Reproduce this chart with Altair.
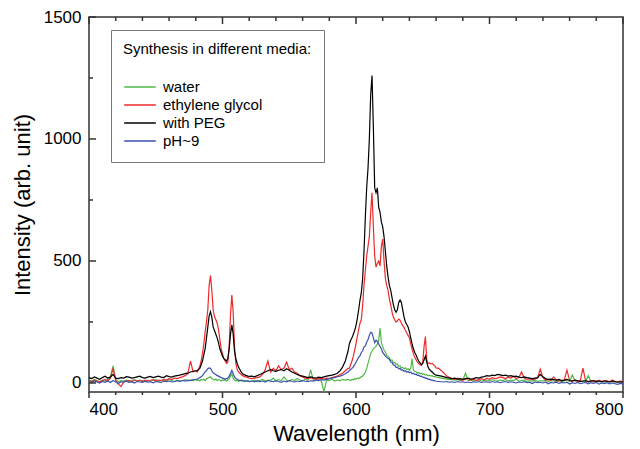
import altair as alt
import pandas as pd

# sampling grid (nm): coarse in flat parts, 1 nm around the emission bands
wavelength = (list(range(400, 481, 2)) + list(range(481, 521)) + list(range(522, 595, 2))
              + list(range(595, 661)) + list(range(662, 801, 2)))

series_names = ["water", "ethylene glycol", "with PEG", "pH~9"]
series_colors = ["#50b848", "#ee2a2a", "#000000", "#3b4fae"]

x_major_ticks = [400, 500, 600, 700, 800]
x_minor_ticks = [420, 440, 460, 480, 520, 540, 560, 580, 620, 640, 660, 680,
                 720, 740, 760, 780]
y_major_ticks = [0, 500, 1000, 1500]
y_minor_ticks = [250, 750, 1250]

water = [
    # 400-480 step 2
    12, 8, 15, 10, 5, 12, 8, 15, 25, 70, 15, 5, 10, 8, 12, 6, 10, 14, 8, 12,
    10, 5, 12, 8, 10, 14, 6, 10, 12, 8, 15, 10, 6, 12, 8, 10, 14, 8, 12, 10, 14,
    # 481-520
    10, 12, 8, 14, 12, 15, 10, 18, 20, 22, 25, 18, 15, 12, 16, 10, 14, 12, 8, 12,
    10, 14, 8, 12, 18, 28, 38, 20, 12, 8, 12, 6, 10, 8, 12, 5, 9, 7, 10, 6,
    # 522-594 step 2
    8, 12, 5, 10, 15, 8, 12, 10, 20, 8, 14, 10, 25, 12, 8, 15, 10, 18, 12, 8,
    15, 10, 55, 12, 10, 14, 8, -35, 12, 10, 15, 8, 12, 10, 14, 12, 15,
    # 595-660
    12, 10, 15, 12, 18, 15, 20, 18, 22, 25, 28, 35, 45, 60, 80, 100, 120, 130, 140, 145,
    150, 160, 175, 225, 165, 150, 135, 128, 112, 110, 102, 92, 94, 82, 84, 75, 78, 68, 70, 62,
    64, 58, 62, 55, 58, 52, 60, 100, 52, 48, 46, 40, 43, 38, 40, 35, 37, 32, 34, 30,
    32, 28, 30, 26, 27, 24,
    # 662-800 step 2
    22, 20, 18, 16, 14, 15, 12, 14, 10, 12, 40, 10, 12, 8, 10, 12, 8, 10, 12, 9,
    14, 10, 8, 12, 10, 14, 8, 12, 10, 15, 8, 10, 12, 6, 10, 8, 12, 6, 10, 8,
    12, 6, 10, 8, 5, 10, 6, 8, 12, 6, 33, 8, 5, 10, 6, 8, 30, 6, 4, 8,
    5, 8, 3, 6, 4, 7, 2, 5, 3, 4,
]

ethylene_glycol = [
    # 400-480 step 2
    10, 5, 12, 8, 5, 10, 15, 8, 20, 60, 10, -5, -15, 5, 8, 10, 5, 12, 8, 10,
    6, 12, 8, 10, 14, 9, 12, 10, 15, 12, 18, 14, 20, 18, 22, 25, 30, 38, 90, 45, 50,
    # 481-520
    45, 55, 70, 90, 120, 160, 210, 250, 300, 400, 440, 380, 300, 272, 260, 245, 220, 180, 140, 120,
    100, 90, 80, 85, 150, 280, 360, 290, 150, 80, 55, 45, 40, 35, 30, 28, 25, 25, 22, 20,
    # 522-594 step 2
    18, 20, 22, 25, 35, 55, 90, 45, 60, 50, 70, 55, 60, 85, 55, 60, 45, 40, 30, 25,
    20, 18, 22, 18, 15, 18, 20, 15, 20, 18, 22, 25, 28, 35, 40, 50, 60,
    # 595-660
    60, 75, 90, 110, 135, 160, 190, 220, 245, 260, 320, 400, 460, 520, 560, 600, 700, 780, 640, 520,
    475, 490, 500, 480, 560, 590, 500, 430, 400, 380, 345, 320, 290, 270, 258, 250, 255, 262, 258, 245,
    235, 228, 215, 205, 195, 185, 160, 140, 120, 105, 95, 85, 80, 75, 72, 85, 150, 190, 95, 80,
    82, 78, 80, 75, 70, 62,
    # 662-800 step 2
    60, 50, 40, 28, 22, 18, 15, 20, 14, 12, 16, 18, 12, 15, 10, 14, 18, 12, 20, 15,
    22, 18, 20, 25, 22, 18, 24, 20, 28, 18, 22, 45, 20, 15, 18, 14, 16, 20, 57, 22,
    12, 14, 10, 25, 12, 8, 10, 12, 53, 10, 8, 12, 6, 10, 61, 8, 6, 10, 5, 8,
    12, 6, 8, 10, 5, 12, 6, 4, 8, 5,
]

with_peg = [
    # 400-480 step 2
    22, 18, 25, 20, 15, 22, 28, 20, 24, 35, 20, 18, 22, 20, 26, 24, 20, 22, 25, 28,
    22, 20, 24, 27, 22, 25, 28, 24, 22, 30, 26, 24, 28, 30, 32, 35, 38, 40, 45, 48, 50,
    # 481-520
    50, 55, 60, 75, 90, 115, 140, 185, 230, 275, 292, 270, 230, 215, 200, 185, 165, 140, 125, 110,
    100, 95, 90, 100, 140, 200, 238, 200, 130, 100, 80, 65, 55, 45, 38, 35, 32, 30, 28, 27,
    # 522-594 step 2
    28, 25, 30, 35, 40, 45, 50, 55, 50, 48, 52, 55, 50, 58, 52, 45, 40, 35, 30, 28,
    25, 22, 25, 22, 20, 24, 22, 25, 28, 30, 32, 35, 40, 50, 66, 90, 130,
    # 595-660
    160, 175, 185, 200, 215, 235, 265, 300, 340, 370, 430, 540, 680, 800, 880, 1000, 1180, 1260, 1050, 800,
    780, 800, 720, 700, 660, 640, 600, 540, 480, 435, 400, 380, 350, 320, 300, 290, 300, 330, 340, 330,
    300, 270, 250, 240, 230, 210, 185, 160, 140, 125, 115, 100, 90, 82, 75, 80, 95, 110, 85, 65,
    55, 50, 45, 40, 35, 32,
    # 662-800 step 2
    30, 28, 25, 22, 20, 18, 20, 16, 18, 15, 18, 20, 16, 18, 22, 20, 24, 26, 30, 28,
    32, 30, 35, 33, 30, 32, 28, 30, 26, 28, 24, 22, 25, 22, 20, 18, 20, 22, 35, 25,
    18, 15, 16, 14, 12, 15, 10, 12, 15, 10, 8, 12, 10, 6, 8, 10, 5, 8, 10, 6,
    8, 5, 9, 6, 4, 8, 6, 3, 5, 4,
]

ph9 = [
    # 400-480 step 2
    5, 2, 8, 4, 0, 6, 3, 8, 2, 10, 4, -2, 5, 3, 7, 2, 5, 0, 6, 4,
    2, 7, 3, 5, 1, 6, 4, 2, 7, 5, 8, 4, 6, 9, 7, 10, 8, 12, 10, 14, 15,
    # 481-520
    16, 18, 22, 25, 30, 38, 45, 52, 58, 62, 60, 50, 42, 38, 35, 30, 28, 25, 22, 20,
    18, 16, 18, 20, 28, 40, 52, 38, 25, 18, 15, 12, 10, 12, 9, 8, 10, 7, 8, 6,
    # 522-594 step 2
    8, 5, 10, 6, 8, 4, 10, 7, 5, 9, 6, 3, 8, 5, 10, 6, 4, 8, 6, 10,
    7, 5, 9, 8, 12, 10, 14, 12, 15, 18, 20, 22, 26, 28, 32, 38, 45,
    # 595-660
    50, 55, 60, 66, 75, 85, 95, 105, 112, 125, 132, 148, 152, 168, 178, 195, 208, 205, 185, 165,
    175, 170, 160, 150, 140, 125, 118, 110, 105, 100, 97, 86, 84, 74, 72, 64, 65, 58, 60, 53,
    54, 48, 50, 44, 47, 42, 45, 38, 40, 35, 36, 31, 32, 27, 28, 23, 24, 19, 20, 15,
    16, 12, 13, 9, 10, 7,
    # 662-800 step 2
    6, 5, 4, 6, 3, 5, 2, 6, 3, 5, 2, 4, 1, 5, 3, 6, 2, 4, 5, 2,
    6, 3, 5, 1, 4, 6, 2, 5, 3, 0, 4, 2, 5, 1, 3, -2, 4, 1, 3, 0,
    4, -3, 2, 0, 3, -2, 2, 0, 3, -4, 1, -2, 2, -3, 0, 2, -4, 1, -2, 2,
    -5, 0, -3, 1, -4, 0, -3, -6, -2, -4,
]

rows = []
for name, vals in zip(series_names, [water, ethylene_glycol, with_peg, ph9], strict=True):
    for w, v in zip(wavelength, vals, strict=True):
        rows.append({"Wavelength": w, "Intensity": v, "Series": name})
df = pd.DataFrame(rows)

W, H = 534, 375
FONT = "Liberation Sans"
TICK = "#333333"
xs = alt.Scale(domain=[400, 800], nice=False, zero=False)
ys = alt.Scale(domain=[-37, 1500], nice=False, zero=False)

lines = alt.Chart(df).mark_line(strokeWidth=1.2).encode(
    x=alt.X("Wavelength:Q", scale=xs, axis=alt.Axis(
        orient="bottom", values=x_major_ticks, title="Wavelength (nm)", format="d",
        ticks=False, labelPadding=9, titlePadding=6, domain=False, grid=False)),
    y=alt.Y("Intensity:Q", scale=ys, axis=alt.Axis(
        orient="left", values=y_major_ticks, title="Intensity (arb. unit)", format="d",
        ticks=False, labelPadding=8, titlePadding=9, domain=False, grid=False)),
    color=alt.Color("Series:N", scale=alt.Scale(domain=series_names, range=series_colors),
                    legend=alt.Legend(
                        orient="none", legendX=22, legendY=13,
                        title="Synthesis in different media:",
                        titleFont=FONT, titleFontSize=15, titleFontWeight="normal",
                        titleColor="black", titlePadding=21, titleLimit=400,
                        labelFont=FONT, labelFontSize=15, labelColor="black", labelLimit=300,
                        symbolType="stroke", symbolSize=1000, symbolStrokeWidth=1.5,
                        clipHeight=18, rowPadding=0, labelOffset=6,
                        padding=12, strokeColor="#777777", fillColor="white")),
)


def x_ticks(values, y0, y1):
    d = pd.DataFrame({"t": values})
    return alt.Chart(d).mark_rule(color=TICK, strokeWidth=1.5).encode(
        x=alt.X("t:Q", scale=xs, axis=None),
        y=alt.value(y0), y2=alt.value(y1),
    )


def y_ticks(values, x0, x1):
    d = pd.DataFrame({"t": values})
    return alt.Chart(d).mark_rule(color=TICK, strokeWidth=1.5).encode(
        y=alt.Y("t:Q", scale=ys, axis=None),
        x=alt.value(x0), x2=alt.value(x1),
    )


tick_layers = [
    x_ticks(x_major_ticks, H, H + 6),      # bottom, outward
    x_ticks(x_minor_ticks, H, H + 3),
    x_ticks(x_major_ticks, 0, 7),          # top, inward
    x_ticks(x_minor_ticks, 0, 4),
    y_ticks(y_major_ticks, 0, 7),          # left, inward
    y_ticks(y_minor_ticks, 0, 4),
]

chart = alt.layer(lines, *tick_layers).resolve_axis(
    x="independent", y="independent"
).properties(
    width=W, height=H,
    autosize=alt.AutoSizeParams(type="none"),
    padding={"left": 81, "top": 9, "right": 9, "bottom": 58},
).configure_view(
    stroke="#333333", strokeWidth=1.5
).configure_axis(
    labelFont=FONT, labelFontSize=17, labelColor="black",
    titleFont=FONT, titleFontSize=22, titleFontWeight="normal", titleColor="black",
)

chart.save("out.html", embed_options={"renderer": "svg", "actions": False})
